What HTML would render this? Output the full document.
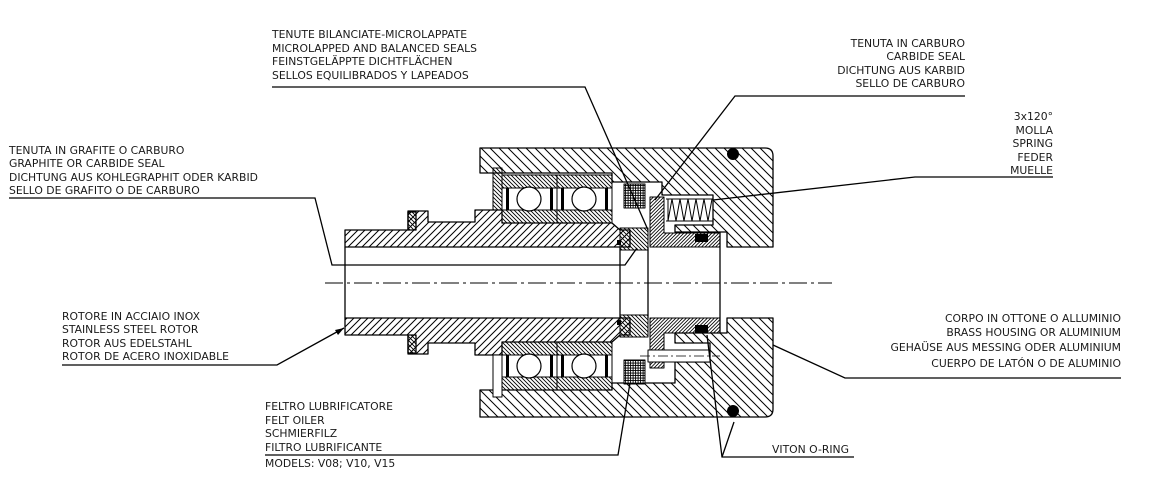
<!DOCTYPE html>
<html><head><meta charset="utf-8"><style>
html,body{margin:0;padding:0;background:#fff;}
svg{display:block;}
text{font-family:"DejaVu Sans","Liberation Sans",sans-serif;font-size:10.8px;fill:#1a1a1a;}
</style></head><body>
<svg width="1160" height="497" viewBox="0 0 1160 497" xmlns="http://www.w3.org/2000/svg">
<defs>
<pattern id="hb" patternUnits="userSpaceOnUse" width="9" height="9"><path d="M-2,-2 L11,11 M-2,7 L2,11 M7,-2 L11,2" stroke="#000" stroke-width="1"/></pattern>
<pattern id="hf" patternUnits="userSpaceOnUse" width="7" height="7"><path d="M0,7 L7,0 M-1,1 L1,-1 M6,8 L8,6" stroke="#000" stroke-width="1"/></pattern>
<pattern id="hd" patternUnits="userSpaceOnUse" width="3.5" height="3.5"><path d="M0,3.5 L3.5,0 M-1,1 L1,-1 M2.5,4.5 L4.5,2.5" stroke="#000" stroke-width="0.8"/></pattern>
<pattern id="hr" patternUnits="userSpaceOnUse" width="4" height="4"><path d="M-1,-1 L5,5 M-1,3 L1,5 M3,-1 L5,1" stroke="#000" stroke-width="0.9"/></pattern>
<pattern id="hx" patternUnits="userSpaceOnUse" width="2.5" height="2.5"><rect width="2.5" height="2.5" fill="#fff"/><path d="M0,0.6 H2.5 M0.6,0 V2.5" stroke="#000" stroke-width="0.9"/></pattern>
</defs>
<g stroke="#000" stroke-width="1.3" stroke-linejoin="round">
<path fill="url(#hb)" d="M480,148 H765 Q773,148 773,156 V247 H727 V232 H675 V225 H713 V195 H662 V182 H612 V173 H480 Z"/>
<path fill="url(#hb)" d="M480,417 H765 Q773,417 773,409 V318 H727 V333 H675 V343 H710 V362 H675 V383 H612 V390 H480 Z"/>
<path fill="url(#hf)" d="M345,230 H408 V211 H428 V222 H475 V210 H502 V223 H612 L620,230 H630 V247 H345 Z"/>
<path fill="url(#hf)" d="M345,335 H408 V354 H428 V343 H475 V355 H502 V342 H612 L620,335 H630 V318 H345 Z"/>
<line x1="345" y1="247" x2="345" y2="318"/>
<line x1="620" y1="247" x2="620" y2="318"/>
<line x1="648" y1="247" x2="648" y2="318"/>
<line x1="720" y1="232" x2="720" y2="333"/>
<rect x="408" y="212" width="8" height="18" fill="url(#hr)"/>
<rect x="408" y="335" width="8" height="18" fill="url(#hr)"/>
<rect x="493" y="168" width="9" height="42" fill="url(#hr)" stroke-width="1"/>
<rect x="493" y="355" width="9" height="42" fill="#fff" stroke-width="1"/>
<g stroke-width="1">
<rect x="502" y="175" width="55" height="13" fill="url(#hr)"/><rect x="557" y="175" width="55" height="13" fill="url(#hr)"/>
<rect x="502" y="210" width="55" height="13" fill="url(#hr)"/><rect x="557" y="210" width="55" height="13" fill="url(#hr)"/>
<rect x="502" y="188" width="110" height="22" fill="#fff"/>
<line x1="557" y1="175" x2="557" y2="223"/>
<rect x="502" y="342" width="55" height="13" fill="url(#hr)"/><rect x="557" y="342" width="55" height="13" fill="url(#hr)"/>
<rect x="502" y="377" width="55" height="13" fill="url(#hr)"/><rect x="557" y="377" width="55" height="13" fill="url(#hr)"/>
<rect x="502" y="355" width="110" height="22" fill="#fff"/>
<line x1="557" y1="342" x2="557" y2="390"/>
</g>
<g fill="#fff" stroke-width="1.2">
<circle cx="529" cy="199" r="12"/><circle cx="584" cy="199" r="12"/>
<circle cx="529" cy="366" r="12"/><circle cx="584" cy="366" r="12"/>
</g>
<g fill="#000" stroke="none">
<rect x="506" y="188" width="3" height="22"/><rect x="550" y="188" width="3" height="22"/>
<rect x="561" y="188" width="3" height="22"/><rect x="605" y="188" width="3" height="22"/>
<rect x="506" y="355" width="3" height="22"/><rect x="550" y="355" width="3" height="22"/>
<rect x="561" y="355" width="3" height="22"/><rect x="605" y="355" width="3" height="22"/>
</g>
<rect x="624" y="184" width="21" height="24" fill="url(#hx)" stroke-width="1"/>
<rect x="624" y="360" width="21" height="24" fill="url(#hx)" stroke-width="1"/>
<path fill="url(#hr)" d="M620,228 H648 V250 H620 Z" stroke-width="1"/>
<path fill="url(#hr)" d="M620,315 H648 V337 H620 Z" stroke-width="1"/>
<path fill="url(#hd)" d="M650,197 H664 V233 H720 V247 H650 Z" stroke-width="1"/>
<path fill="url(#hd)" d="M650,368 H664 V333 H720 V318 H650 Z" stroke-width="1"/>
<path fill="none" stroke-width="1" d="M668,199 V221 M668,221 L672,199 L676,221 L680,199 L684,221 L688,199 L692,221 L696,199 L700,221 L704,199 L708,221 L712,199 M666,199 H713 M666,221 H713"/>
<rect x="648" y="350" width="62" height="12" fill="#fff" stroke-width="1"/>
<line x1="640" y1="356" x2="720" y2="356" stroke-width="0.8" stroke-dasharray="10,3,2,3"/>
<g fill="#000" stroke="none">
<circle cx="733" cy="154" r="6"/><circle cx="733" cy="411" r="6"/>
<rect x="695" y="234" width="13" height="8"/><rect x="695" y="325" width="13" height="8"/>
<rect x="617" y="240" width="4" height="5"/><rect x="617" y="320" width="4" height="5"/>
</g>
</g>
<line x1="325" y1="283" x2="832" y2="283" stroke="#000" stroke-width="1" stroke-dasharray="18,4,3,4"/>
<g stroke="#000" stroke-width="1.3" fill="none">
<polyline points="272,87 585,87 648,230"/>
<polyline points="9,198 315,198 332,265 625,265 637,248"/>
<polyline points="965,96 735,96 655,200"/>
<polyline points="1053,177 915,177 713,200"/>
<polyline points="62,365 277,365 344,328"/>
<polyline points="265,455 618,455 630,383"/>
<polyline points="854,457 722,457 707,335"/>
<polyline points="722,457 734,422"/>
<polyline points="1121,378 845,378 773,345"/>
</g>
<path d="M344,328 L335,330 L338,335 Z" fill="#000"/>
<text x="272" y="38">TENUTE BILANCIATE-MICROLAPPATE</text>
<text x="272" y="52">MICROLAPPED AND BALANCED SEALS</text>
<text x="272" y="65">FEINSTGELÄPPTE DICHTFLÄCHEN</text>
<text x="272" y="79">SELLOS EQUILIBRADOS Y LAPEADOS</text>
<text x="9" y="154">TENUTA IN GRAFITE O CARBURO</text>
<text x="9" y="167">GRAPHITE OR CARBIDE SEAL</text>
<text x="9" y="181">DICHTUNG AUS KOHLEGRAPHIT ODER KARBID</text>
<text x="9" y="194">SELLO DE GRAFITO O DE CARBURO</text>
<g text-anchor="end">
<text x="965" y="47">TENUTA IN CARBURO</text>
<text x="965" y="60">CARBIDE SEAL</text>
<text x="965" y="74">DICHTUNG AUS KARBID</text>
<text x="965" y="87">SELLO DE CARBURO</text>
<text x="1053" y="120">3x120°</text>
<text x="1053" y="134">MOLLA</text>
<text x="1053" y="147">SPRING</text>
<text x="1053" y="161">FEDER</text>
<text x="1053" y="174">MUELLE</text>
<text x="1121" y="322">CORPO IN OTTONE O ALLUMINIO</text>
<text x="1121" y="336">BRASS HOUSING OR ALUMINIUM</text>
<text x="1121" y="351">GEHAÜSE AUS MESSING ODER ALUMINIUM</text>
<text x="1121" y="367">CUERPO DE LATÓN O DE ALUMINIO</text>
</g>
<text x="62" y="320">ROTORE IN ACCIAIO INOX</text>
<text x="62" y="333">STAINLESS STEEL ROTOR</text>
<text x="62" y="347">ROTOR AUS EDELSTAHL</text>
<text x="62" y="360">ROTOR DE ACERO INOXIDABLE</text>
<text x="265" y="410">FELTRO LUBRIFICATORE</text>
<text x="265" y="424">FELT OILER</text>
<text x="265" y="437">SCHMIERFILZ</text>
<text x="265" y="451">FILTRO LUBRIFICANTE</text>
<text x="265" y="467">MODELS: V08; V10, V15</text>
<text x="772" y="453">VITON O-RING</text>
</svg>
</body></html>
